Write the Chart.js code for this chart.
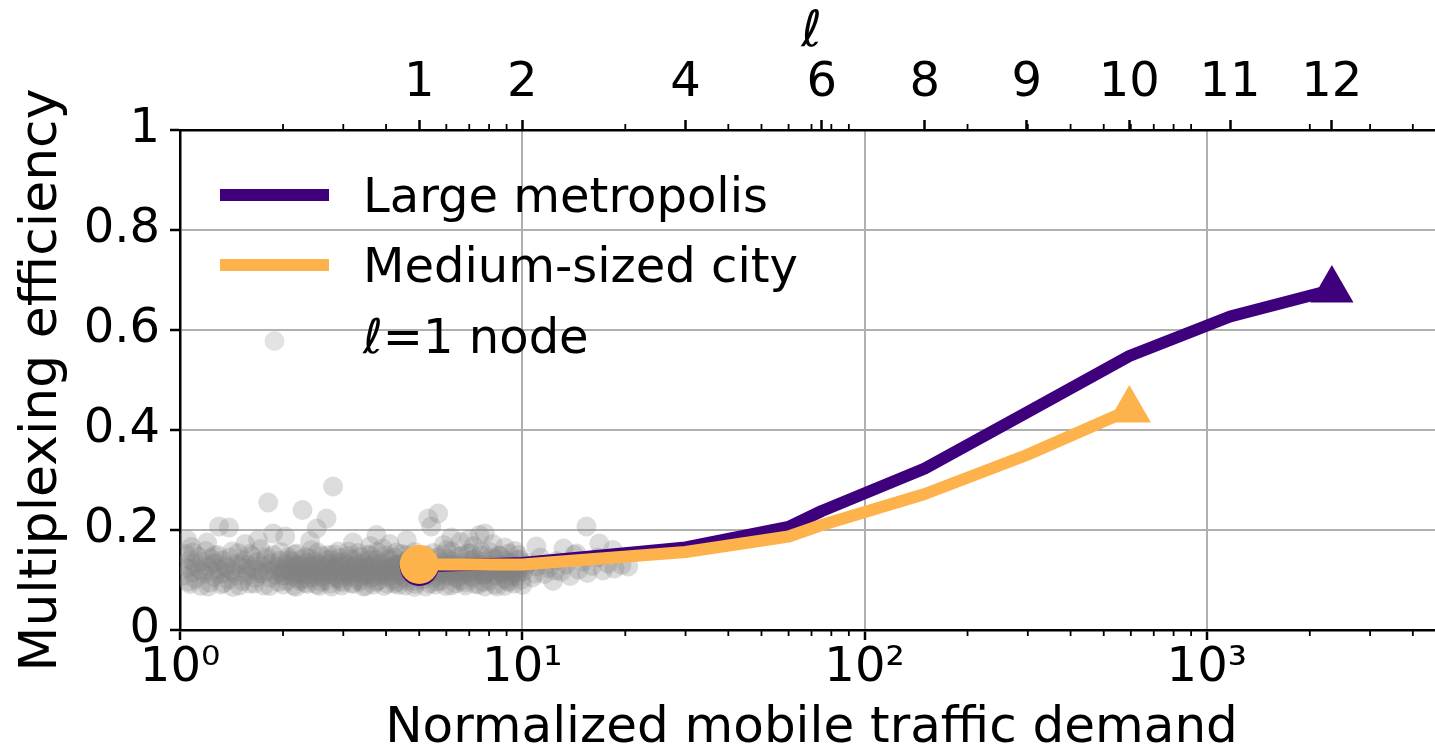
<!DOCTYPE html>
<html lang="en">
<head>
<meta charset="UTF-8">
<title>Multiplexing efficiency vs. traffic demand</title>
<script src="https://cdn.jsdelivr.net/npm/chart.js@4"></script>
<style>
  html, body { margin: 0; padding: 0; background: #fff; overflow: hidden; }
  canvas { display: block; }
</style>
</head>
<body>
<canvas id="effChart" width="1468" height="755"></canvas>
<script>
// hierarchy level ℓ and the normalized demand it corresponds to (top axis)
const ellLevels = [1, 2, 4, 6, 8, 9, 10, 11, 12];
const ellDemand = [5, 10, 30, 75, 150, 298, 594, 1170, 2320];

// aggregated curves
const metroDemand = [5, 10, 30, 60, 75, 150, 298, 594, 1170, 2320];
const metroEff    = [0.127, 0.134, 0.165, 0.206, 0.238, 0.323, 0.435, 0.548, 0.627, 0.68];
const cityDemand  = [5, 10, 30, 60, 75, 150, 298, 594];
const cityEff     = [0.131, 0.131, 0.156, 0.187, 0.210, 0.272, 0.35, 0.44];

const yTickValues = [0, 0.2, 0.4, 0.6, 0.8, 1];
const decadeLabels = ['10\u2070', '10\u00b9', '10\u00b2', '10\u00b3'];

// single ℓ=1 nodes: [demand, efficiency]
const nodeSamples = [
  [1.02,.131],[1.03,.109],[1.04,.152],[1.05,.124],[1.06,.097],[1.07,.141],[1.08,.166],[1.09,.115],[1.10,.133],[1.11,.102],
  [1.13,.147],[1.14,.121],[1.15,.088],[1.16,.137],[1.18,.112],[1.19,.158],[1.20,.127],[1.22,.095],[1.23,.143],[1.24,.118],
  [1.26,.106],[1.27,.135],[1.29,.150],[1.30,.122],[1.32,.091],[1.33,.139],[1.35,.114],[1.36,.128],[1.38,.101],[1.40,.145],
  [1.41,.119],[1.43,.086],[1.45,.132],[1.47,.109],[1.48,.154],[1.50,.125],[1.52,.098],[1.54,.140],[1.56,.116],[1.58,.131],
  [1.60,.093],[1.62,.148],[1.64,.121],[1.66,.104],[1.68,.136],[1.70,.113],[1.72,.162],[1.74,.127],[1.76,.089],[1.78,.143],
  [1.81,.118],[1.83,.105],[1.85,.134],[1.87,.150],[1.90,.111],[1.92,.126],[1.94,.096],[1.96,.139],[1.98,.120],[1.99,.108],
  [1.11,.126],[1.17,.118],[1.25,.131],[1.31,.112],[1.37,.124],[1.44,.116],[1.51,.133],[1.57,.109],[1.63,.127],[1.69,.119],
  [1.75,.113],[1.82,.129],[1.88,.121],[1.95,.115],
  [2.01,.117],[2.03,.132],[2.05,.098],[2.07,.146],[2.09,.121],[2.11,.108],[2.13,.137],[2.15,.089],[2.17,.126],[2.19,.153],
  [2.21,.113],[2.23,.130],[2.26,.102],[2.28,.142],[2.30,.119],[2.32,.094],[2.35,.134],[2.37,.111],[2.39,.127],[2.42,.160],
  [2.44,.105],[2.46,.138],[2.49,.122],[2.51,.091],[2.54,.131],[2.56,.115],[2.59,.148],[2.61,.107],[2.64,.125],[2.66,.099],
  [2.69,.140],[2.72,.118],[2.74,.133],[2.77,.087],[2.80,.124],[2.82,.151],[2.85,.110],[2.88,.129],[2.91,.103],[2.93,.144],
  [2.96,.120],[2.99,.095],[3.02,.136],[3.05,.114],[3.08,.128],[3.11,.157],[3.14,.106],[3.17,.123],[3.20,.092],[3.23,.139],
  [3.26,.117],[3.29,.131],[3.32,.100],[3.36,.146],[3.39,.121],[3.42,.109],[3.45,.135],[3.49,.088],[3.52,.126],[3.55,.113],
  [3.59,.149],[3.62,.104],[3.66,.130],[3.69,.118],[3.73,.096],[3.76,.141],[3.80,.122],[3.84,.108],[3.87,.134],[3.91,.163],
  [3.95,.115],[3.99,.127],[4.03,.093],[4.07,.138],[4.11,.111],[4.15,.124],[4.19,.101],[4.23,.145],[4.27,.119],[4.31,.132],
  [4.35,.090],[4.39,.128],[4.44,.152],[4.48,.107],[4.52,.121],[4.57,.137],[4.61,.098],[4.66,.116],[4.70,.143],[4.75,.112],
  [4.79,.129],[4.84,.086],[4.89,.125],[4.94,.147],[4.98,.105],
  [2.04,.122],[2.12,.115],[2.20,.128],[2.29,.110],[2.38,.124],[2.47,.117],[2.57,.130],[2.67,.112],[2.78,.121],[2.89,.135],
  [3.00,.109],[3.12,.119],[3.24,.126],[3.37,.113],[3.50,.120],[3.64,.131],[3.78,.111],[3.93,.123],[4.08,.116],[4.24,.129],
  [4.41,.114],[4.58,.126],[4.76,.118],[4.92,.132],
  [2.02,.109],[2.06,.127],[2.10,.118],[2.14,.132],[2.18,.105],[2.22,.121],[2.27,.114],[2.31,.128],[2.36,.102],[2.40,.119],
  [2.45,.131],[2.50,.111],[2.55,.123],[2.60,.106],[2.65,.118],[2.70,.129],[2.75,.113],[2.81,.120],[2.86,.104],[2.92,.126],
  [2.97,.116],[3.03,.131],[3.09,.110],[3.15,.122],[3.21,.114],[3.27,.127],[3.33,.105],[3.40,.119],[3.46,.130],[3.53,.112],
  [3.60,.124],[3.67,.107],[3.74,.118],[3.82,.129],[3.89,.113],[3.97,.121],[4.05,.106],[4.13,.125],[4.21,.117],[4.29,.131],
  [4.37,.110],[4.46,.122],[4.55,.104],[4.64,.119],[4.73,.128],[4.82,.113],[4.91,.121],
  [2.08,.140],[2.24,.098],[2.41,.143],[2.58,.097],[2.76,.141],[2.95,.099],[3.15,.142],[3.36,.097],[3.58,.140],[3.81,.099],
  [4.06,.143],[4.32,.096],[4.60,.139],[4.88,.098],
  [5.02,.119],[5.07,.136],[5.12,.101],[5.17,.128],[5.22,.150],[5.27,.112],[5.33,.124],[5.38,.093],[5.44,.140],[5.49,.117],
  [5.55,.131],[5.60,.106],[5.66,.145],[5.72,.121],[5.78,.098],[5.84,.134],[5.90,.114],[5.96,.127],[6.02,.160],[6.08,.109],
  [6.14,.123],[6.20,.089],[6.27,.138],[6.33,.116],[6.40,.130],[6.46,.102],[6.53,.147],[6.59,.120],[6.66,.111],[6.73,.135],
  [6.80,.095],[6.87,.126],[6.94,.153],[7.01,.113],[7.08,.129],[7.15,.104],[7.23,.142],[7.30,.118],[7.38,.132],[7.45,.091],
  [7.53,.124],[7.61,.156],[7.69,.108],[7.77,.137],[7.85,.115],[7.93,.128],[8.01,.099],[8.09,.144],[8.17,.121],[8.26,.110],
  [8.34,.133],[8.43,.087],[8.51,.125],[8.60,.149],[8.69,.114],[8.78,.130],[8.87,.103],[8.96,.139],[9.05,.119],[9.14,.096],
  [9.24,.134],[9.33,.112],[9.43,.127],[9.52,.158],[9.62,.107],[9.72,.122],[9.82,.141],[9.92,.100],
  [5.09,.125],[5.30,.118],[5.52,.129],[5.75,.113],[5.99,.122],[6.24,.131],[6.50,.115],[6.77,.124],[7.05,.119],[7.34,.128],
  [7.65,.112],[7.97,.121],[8.30,.126],[8.64,.117],[9.00,.124],[9.38,.115],[9.77,.129],
  [5.05,.113],[5.14,.124],[5.24,.107],[5.35,.130],[5.46,.116],[5.57,.121],[5.69,.109],[5.81,.127],[5.93,.118],[6.05,.131],
  [6.17,.111],[6.30,.123],[6.43,.106],[6.56,.119],[6.70,.128],[6.84,.114],[6.98,.122],[7.12,.108],[7.27,.125],[7.42,.117],
  [7.57,.130],[7.73,.111],[7.89,.123],[8.05,.116],[8.22,.128],[8.39,.109],[8.56,.121],[8.74,.113],[8.92,.126],[9.10,.118],
  [9.29,.107],[9.48,.122],[9.67,.114],[9.87,.125],
  [5.20,.141],[5.63,.097],[6.10,.142],[6.60,.098],[7.13,.140],[7.72,.096],[8.35,.142],[9.03,.099],[9.70,.139],
  [1.07,.092],[1.21,.087],[1.34,.094],[1.49,.089],[1.65,.093],[1.83,.088],[2.00,.091],[2.18,.086],[2.36,.092],[2.55,.088],
  [2.75,.093],[2.97,.089],[3.19,.094],[3.43,.087],[3.68,.091],[3.95,.088],[4.24,.093],[4.55,.089],[4.87,.092],[5.22,.087],
  [5.58,.091],[5.97,.088],[6.38,.093],[6.82,.089],[7.29,.092],[7.78,.087],[8.31,.091],[8.87,.088],[9.45,.093],[10.0,.090],
  [1.09,.155],[1.26,.149],[1.42,.157],[1.60,.152],[1.79,.147],[1.97,.156],[2.16,.151],[2.34,.146],[2.53,.155],[2.71,.150],
  [2.90,.157],[3.10,.148],[3.31,.154],[3.53,.151],[3.77,.156],[4.01,.149],[4.28,.155],[4.56,.150],[4.85,.156],[5.16,.148],
  [5.50,.154],[5.85,.151],[6.23,.157],[6.64,.149],[7.07,.154],[7.54,.150],[8.04,.156],[8.57,.148],[9.13,.153],[9.73,.150],
  [5.90,.170],[6.60,.176],[7.20,.168],[8.20,.172],[8.90,.165],[7.00,.182],[6.20,.185],
  [10.1,.118],[10.4,.134],[10.7,.105],[11.0,.127],[11.3,.145],[11.6,.112],[11.9,.124],[12.3,.098],[12.6,.138],[13.0,.117],
  [13.4,.131],[13.8,.108],[14.2,.150],[14.6,.121],[15.0,.136],[15.5,.114],[16.0,.128],[16.6,.145],[17.2,.119],[17.8,.133],
  [18.6,.123],[19.5,.130],[20.4,.127],[11.0,.167],[13.2,.163],[14.4,.153],[16.8,.173],[18.4,.160],
  [10.2,.126],[10.9,.113],[11.7,.131],[12.5,.119],
  [2.80,.287],[1.81,.255],[2.28,.240],[2.68,.223],[1.30,.207],[1.39,.205],[2.51,.203],[3.75,.190],[5.31,.223],[5.68,.233],
  [5.42,.207],[15.4,.207],[1.69,.180],[1.87,.193],[2.03,.187],[7.50,.190],[7.78,.193],[1.20,.175],[1.05,.180],[2.40,.178],
  [3.20,.175],[4.10,.172],[4.60,.180],[3.60,.168],[1.55,.172]
];

const PURPLE = '#3f007d';
const ORANGE = '#feb24c';
const NODE_GRAY = 'rgba(128,128,128,0.28)';
const FONT = "'DejaVu Sans', sans-serif";
const X_MIN = 1, X_MAX = 4900;

const toPoints = (xs, ys) => xs.map((x, i) => ({ x: x, y: ys[i] }));

// circle at the first point, triangle at the last, nothing in between
const markerRadius = n => c => c.dataIndex === 0 ? 19.5 : (c.dataIndex === n - 1 ? 25 : 0);
const markerStyle = n => c => c.dataIndex === n - 1 ? 'triangle' : 'circle';

// log ticks 1..9 x 10^k inside the range, decades flagged as major
function logTicks() {
  const out = [];
  for (let e = 0; e < 4; e++) {
    for (let m = 1; m < 10; m++) {
      const v = m * Math.pow(10, e);
      if (v >= X_MIN && v <= X_MAX) out.push({ value: v, major: m === 1 });
    }
  }
  return out;
}

// top axis: ℓ positions are major, the other log positions stay minor
function ellTicks() {
  const out = logTicks()
    .filter(t => !t.major && ellDemand.indexOf(t.value) < 0)
    .map(t => ({ value: t.value, major: false }));
  ellDemand.forEach(v => out.push({ value: v, major: true }));
  return out.sort((a, b) => a.value - b.value);
}

// x axes run off the right edge, so drop the label overhang padding
function fitX(height) {
  return s => {
    s.height = height;
    s.paddingLeft = 0;
    s.paddingRight = 0;
  };
}

const minorTicks = {
  id: 'minorTicks',
  afterDraw(chart) {
    const ctx = chart.ctx;
    ctx.save();
    ctx.strokeStyle = '#000';
    ctx.lineWidth = 1.8;
    ['x', 'x2'].forEach(id => {
      const s = chart.scales[id];
      const y0 = id === 'x' ? s.top : s.bottom;
      const dir = id === 'x' ? 1 : -1;
      s.ticks.forEach(t => {
        if (t.major) return;
        const px = s.getPixelForValue(t.value);
        ctx.beginPath();
        ctx.moveTo(px, y0);
        ctx.lineTo(px, y0 + dir * 6);
        ctx.stroke();
      });
    });
    ctx.restore();
  }
};

// draws "ℓ" in italic, the rest upright
function drawEllText(ctx, text, x, y, size) {
  let cx = x;
  if (text.charAt(0) === '\u2113') {
    ctx.font = 'italic ' + size + 'px ' + FONT;
    ctx.fillText('\u2113', cx, y);
    cx += ctx.measureText('\u2113').width;
    text = text.slice(1);
  }
  ctx.font = size + 'px ' + FONT;
  ctx.fillText(text, cx, y);
}

// legend sits inside the plot, upper left, without a frame
const innerLegend = {
  id: 'innerLegend',
  afterDatasetsDraw(chart) {
    const ctx = chart.ctx;
    const a = chart.chartArea;
    const ds = chart.data.datasets;
    const hx0 = a.left + 40, hx1 = a.left + 149, tx = a.left + 183;
    ctx.save();
    ctx.textBaseline = 'alphabetic';
    [0, 1].forEach(i => {
      const ly = a.top + 65 + i * 70;
      ctx.strokeStyle = ds[i].borderColor;
      ctx.lineWidth = ds[i].borderWidth;
      ctx.beginPath();
      ctx.moveTo(hx0, ly);
      ctx.lineTo(hx1, ly);
      ctx.stroke();
      ctx.fillStyle = '#000';
      drawEllText(ctx, ds[i].label, tx, ly + 17, 48);
    });
    ctx.fillStyle = 'rgba(128,128,128,0.22)';
    ctx.beginPath();
    ctx.arc((hx0 + hx1) / 2, a.top + 211, 10, 0, Math.PI * 2);
    ctx.fill();
    ctx.fillStyle = '#000';
    drawEllText(ctx, ds[2].label, tx, a.top + 223, 48);
    ctx.restore();
  }
};

const tickFont = { family: FONT, size: 48 };

new Chart(document.getElementById('effChart'), {
  type: 'line',
  data: {
    datasets: [
      {
        label: 'Large metropolis',
        data: toPoints(metroDemand, metroEff),
        borderColor: PURPLE,
        backgroundColor: PURPLE,
        borderWidth: 12,
        borderJoinStyle: 'round',
        pointRadius: markerRadius(metroDemand.length),
        pointStyle: markerStyle(metroDemand.length),
        pointBorderWidth: 0,
        pointBackgroundColor: PURPLE,
        order: 1
      },
      {
        label: 'Medium-sized city',
        data: toPoints(cityDemand, cityEff),
        borderColor: ORANGE,
        backgroundColor: ORANGE,
        borderWidth: 12,
        borderJoinStyle: 'round',
        pointRadius: markerRadius(cityDemand.length),
        pointStyle: markerStyle(cityDemand.length),
        pointBorderWidth: 0,
        pointBackgroundColor: ORANGE,
        order: 0
      },
      {
        type: 'scatter',
        label: '\u2113=1 node',
        data: nodeSamples.map(p => ({ x: p[0], y: p[1] })),
        backgroundColor: NODE_GRAY,
        pointBackgroundColor: NODE_GRAY,
        pointRadius: 10,
        pointBorderWidth: 0,
        showLine: false,
        order: 2
      }
    ]
  },
  options: {
    responsive: false,
    animation: false,
    events: [],
    layout: { padding: 0 },
    plugins: {
      legend: { display: false },
      tooltip: { enabled: false }
    },
    scales: {
      x: {
        type: 'logarithmic',
        position: 'bottom',
        min: X_MIN,
        max: X_MAX,
        afterBuildTicks: s => { s.ticks = logTicks(); },
        afterFit: fitX(125),
        border: { display: true, color: '#000', width: 2.5 },
        grid: {
          color: c => (c.tick && c.tick.major && c.tick.value > 1) ? '#b0b0b0' : 'rgba(0,0,0,0)',
          lineWidth: 2,
          tickLength: 10,
          tickWidth: 2.5,
          tickColor: c => (c.tick && c.tick.major) ? '#000' : 'rgba(0,0,0,0)'
        },
        ticks: {
          autoSkip: false,
          maxRotation: 0,
          padding: 0,
          color: '#000',
          font: tickFont,
          major: { enabled: true },
          callback: v => {
            const e = Math.round(Math.log10(v));
            return Math.pow(10, e) === v ? decadeLabels[e] : '';
          }
        },
        title: {
          display: true,
          text: 'Normalized mobile traffic demand',
          color: '#000',
          font: { family: FONT, size: 50, lineHeight: 1 },
          padding: { top: 0, bottom: 1 }
        }
      },
      x2: {
        type: 'logarithmic',
        position: 'top',
        min: X_MIN,
        max: X_MAX,
        afterBuildTicks: s => { s.ticks = ellTicks(); },
        afterFit: fitX(130),
        border: { display: true, color: '#000', width: 2.5 },
        grid: {
          drawOnChartArea: false,
          tickLength: 10,
          tickWidth: 2.5,
          tickColor: c => (c.tick && c.tick.major) ? '#000' : 'rgba(0,0,0,0)'
        },
        ticks: {
          autoSkip: false,
          maxRotation: 0,
          padding: 8,
          color: '#000',
          font: tickFont,
          major: { enabled: true },
          callback: (v, i, ticks) => ticks[i].major ? String(ellLevels[ellDemand.indexOf(v)]) : ''
        },
        title: {
          display: true,
          text: '\u2113',
          color: '#000',
          font: { family: FONT, size: 50, style: 'italic', lineHeight: 1 },
          padding: { top: 8, bottom: 0 }
        }
      },
      y: {
        min: 0,
        max: 1,
        afterBuildTicks: s => { s.ticks = yTickValues.map(v => ({ value: v })); },
        afterFit: s => { s.width = 180; },
        border: { display: true, color: '#000', width: 2.5 },
        grid: {
          color: '#b0b0b0',
          lineWidth: 2,
          tickLength: 10,
          tickWidth: 2.5,
          tickColor: '#000'
        },
        ticks: {
          padding: 10,
          color: '#000',
          font: tickFont,
          callback: v => String(v)
        },
        title: {
          display: true,
          text: 'Multiplexing efficiency',
          color: '#000',
          font: { family: FONT, size: 52, lineHeight: 1 },
          padding: { top: 16, bottom: 0 }
        }
      }
    }
  },
  plugins: [minorTicks, innerLegend]
});
</script>
</body>
</html>
